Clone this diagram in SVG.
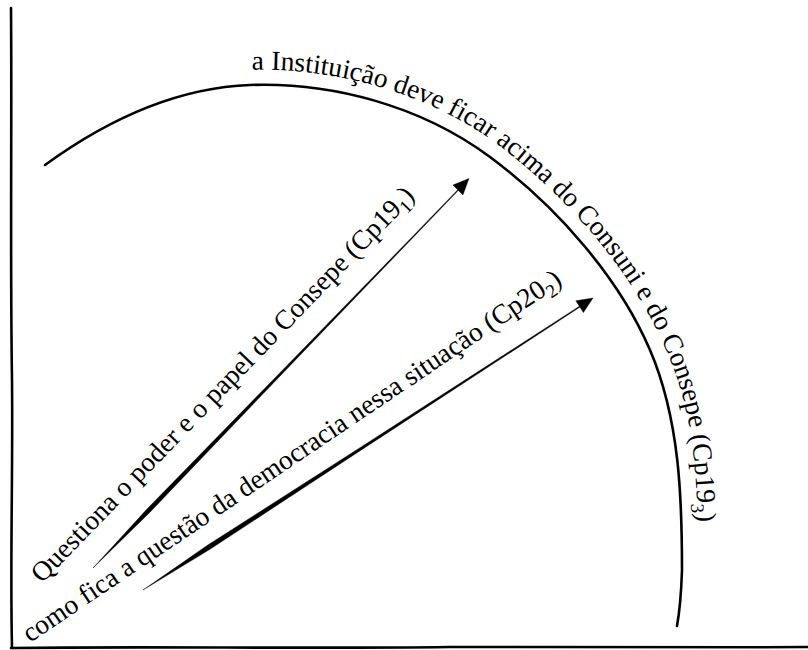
<svg xmlns="http://www.w3.org/2000/svg" width="808" height="650" viewBox="0 0 808 650">
<style>
.ax{fill:none;stroke:#000;stroke-width:2.6;stroke-linecap:round}
.arc{fill:none;stroke:#000;stroke-width:2.6;stroke-linecap:round}
.ink{fill:#000;stroke:#000;stroke-width:0.4;stroke-linejoin:round}
</style>
<defs>
<path id="tp" d="M250,70 C330,67 430,92 501,147 S630,270 664,345 S699,490 697,600"/>
</defs>
<rect width="808" height="650" fill="#fff"/>
<g id="axes">
<path class="ax" d="M11,8 C12,120 10,250 12,380 C13,480 10,560 12,648"/>
<path class="ax" d="M11,648 C150,646 300,649 450,647 C600,646 700,648 808,647"/>
</g>
<g id="arc">
<path class="arc" d="M45,165 C100,125 170,88 250,85 S420,105 490,157 S620,280 650,350 S682,500 682,570 C681,600 679,615 677,626"/>
<text font-family="Liberation Serif, Times New Roman, DejaVu Serif, serif" font-size="27.5" fill="#000"><textPath href="#tp" startOffset="2">a Instituição deve ficar acima do Consuni e do Consepe (Cp19<tspan font-size="19" dy="6">3</tspan><tspan dy="-6">)</tspan></textPath></text>
</g>
<g id="connectors">
<g id="arrow1">
<path class="ink" d="M93,568 L150.0,512.2 L278.4,377.8 L407.1,243.7 L462.3,186.3 L461.7,185.7 L406.3,242.9 L276.6,376.2 L146.8,509.2 Z"/>
<path class="ink" d="M469,178.5 L462.9,194.9 L452.9,185.1 Z"/>
</g>
<g id="arrow2">
<path class="ink" d="M143,590 L210.0,549.3 L362.9,448.9 L516.0,348.9 L581.6,306.0 L581.0,305.2 L515.2,347.7 L361.5,446.7 L207.4,545.3 Z"/>
<path class="ink" d="M593,298 L583.4,312.6 L575.8,300.8 Z"/>
</g>
</g>
<g id="label1">
<text font-family="Liberation Serif, Times New Roman, DejaVu Serif, serif" font-size="27.5" fill="#000" transform="translate(42,584) rotate(-46)">Questiona o poder e o papel do Consepe (Cp19<tspan font-size="19" dy="6">1</tspan><tspan dy="-6">)</tspan></text>
</g>
<g id="label2">
<text font-family="Liberation Serif, Times New Roman, DejaVu Serif, serif" font-size="27.5" fill="#000" transform="translate(30,643) rotate(-34)">como fica a questão da democracia nessa situação (Cp20<tspan font-size="19" dy="6">2</tspan><tspan dy="-6">)</tspan></text>
</g>
</svg>
